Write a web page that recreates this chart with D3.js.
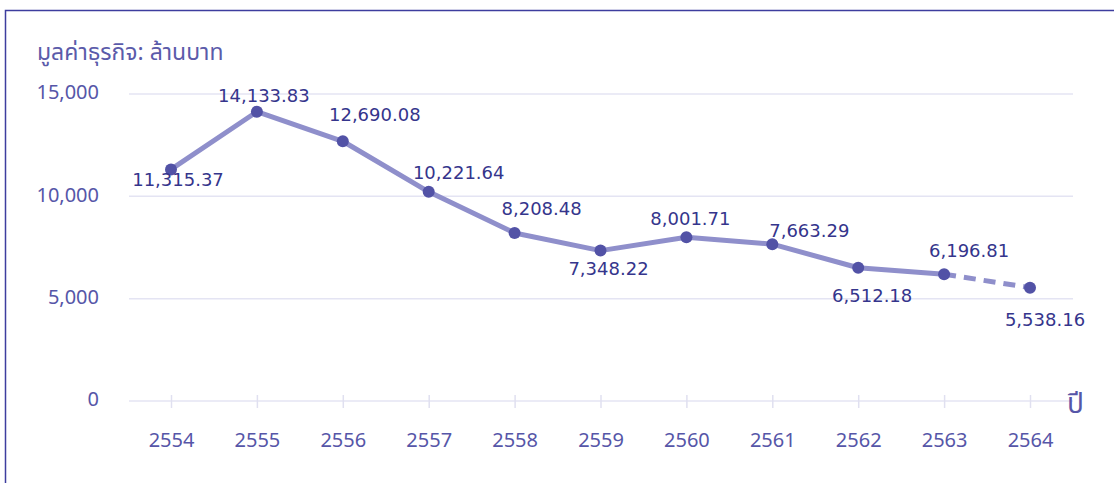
<!DOCTYPE html>
<html>
<head>
<meta charset="utf-8">
<script src="https://cdn.jsdelivr.net/npm/d3@7/dist/d3.min.js"></script>
<style>
  html, body { margin: 0; padding: 0; background: #fff; }
  svg { display: block; }
</style>
</head>
<body>
<svg id="chart" width="1114" height="483"></svg>
<script>
// Business value by Buddhist-era year (million baht)
const years = ["2554", "2555", "2556", "2557", "2558", "2559", "2560", "2561", "2562", "2563", "2564"];
const values = [11315.37, 14133.83, 12690.08, 10221.64, 8208.48, 7348.22, 8001.71, 7663.29, 6512.18, 6196.81, 5538.16];
const yTicks = [0, 5000, 10000, 15000];
// the final year is an estimate, drawn dashed
const estimatedFrom = 9;

// label placement relative to each point (px)
const labelOffsets = [
  [7, 12], [7, -15], [32, -25], [30, -18], [27, -23], [8, 19],
  [4, -17], [37, -12], [14, 29], [25, -22], [15, 33]
];

const svg = d3.select("#chart");
const W = 1114, H = 483;

const x = d3.scalePoint().domain(years).range([171, 1030]);
const y = d3.scaleLinear().domain([0, 15000]).range([401, 94]);
const gridX0 = 129, gridX1 = 1073;

// frame
svg.append("path")
  .attr("d", `M5.5,${H} V10.5 H${W}`)
  .attr("fill", "none")
  .attr("stroke", "#3d3d9e")
  .attr("stroke-width", 1.5);

// title
svg.append("text")
  .attr("x", 37).attr("y", 60)
  .attr("fill", "#5b5baa")
  .attr("font-family", "'Noto Sans Thai', 'Noto Sans', sans-serif")
  .attr("font-size", 23)
  .text("มูลค่าธุรกิจ: ล้านบาท");

// horizontal grid
svg.append("g").selectAll("line").data(yTicks).join("line")
  .attr("x1", gridX0).attr("x2", gridX1)
  .attr("y1", d => y(d)).attr("y2", d => y(d))
  .attr("stroke", "#e4e4f3").attr("stroke-width", 1.5);

// y tick labels
svg.append("g").selectAll("text").data(yTicks).join("text")
  .attr("x", 99).attr("y", d => y(d))
  .attr("text-anchor", "end")
  .attr("dominant-baseline", "middle")
  .attr("fill", "#5656a8")
  .attr("font-family", "'Noto Sans', sans-serif")
  .attr("font-size", 20)
  .text(d => d3.format(",")(d));

// x axis ticks and labels
const xAxis = d3.axisBottom(x).tickSize(0).tickPadding(0);
const gx = svg.append("g").attr("transform", `translate(0,${y(0)})`).call(xAxis);
gx.select(".domain").remove();
gx.selectAll(".tick").append("line")
  .attr("y1", -6).attr("y2", 7)
  .attr("stroke", "#e0e0f0").attr("stroke-width", 1.5);
gx.selectAll(".tick text")
  .attr("y", 46)
  .attr("dy", null)
  .attr("fill", "#5656a8")
  .attr("font-family", "'Noto Sans', sans-serif")
  .attr("font-size", 20);

// x axis name
svg.append("text")
  .attr("x", 1067).attr("y", 413)
  .attr("fill", "#5656a8")
  .attr("font-family", "'Noto Sans Thai', 'Noto Sans', sans-serif")
  .attr("font-size", 28)
  .text("ปี");

const pts = years.map((yr, i) => ({ yr, v: values[i], i }));
const line = d3.line().x(d => x(d.yr)).y(d => y(d.v));

// actual values: solid line
svg.append("path")
  .datum(pts.slice(0, estimatedFrom + 1))
  .attr("d", line)
  .attr("fill", "none")
  .attr("stroke", "#8f8fcb")
  .attr("stroke-width", 5)
  .attr("stroke-linejoin", "round");

// estimate: dashed segment
svg.append("path")
  .datum(pts.slice(estimatedFrom))
  .attr("d", line)
  .attr("fill", "none")
  .attr("stroke", "#8f8fcb")
  .attr("stroke-width", 5)
  .attr("stroke-dasharray", "12,8");

// points
svg.append("g").selectAll("circle").data(pts).join("circle")
  .attr("cx", d => x(d.yr)).attr("cy", d => y(d.v))
  .attr("r", 6)
  .attr("fill", "#5252a6");

// value labels
svg.append("g").selectAll("text").data(pts).join("text")
  .attr("x", d => x(d.yr) + labelOffsets[d.i][0])
  .attr("y", d => y(d.v) + labelOffsets[d.i][1])
  .attr("text-anchor", "middle")
  .attr("dominant-baseline", "middle")
  .attr("fill", "#35358c")
  .attr("font-family", "'DejaVu Sans', sans-serif")
  .attr("font-size", 18)
  .text(d => d3.format(",.2f")(d.v));
</script>
</body>
</html>
